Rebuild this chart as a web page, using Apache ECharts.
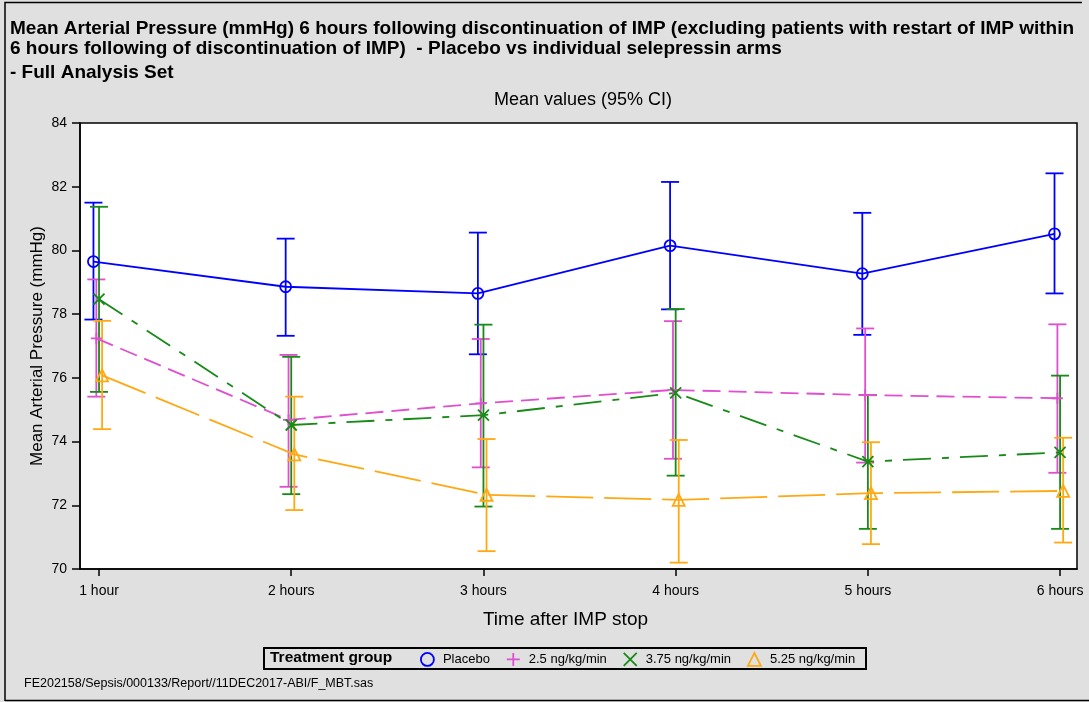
<!DOCTYPE html>
<html>
<head>
<meta charset="utf-8">
<script src="https://cdn.jsdelivr.net/npm/echarts@6/dist/echarts.min.js"></script>
<style>
  html, body { margin: 0; padding: 0; background: #e0e0e0; }
  #chart { width: 1089px; height: 702px; }
</style>
</head>
<body>
<div id="chart"></div>
<script>
// Time points after IMP stop
const hourLabels = ['1 hour', '2 hours', '3 hours', '4 hours', '5 hours', '6 hours'];
const hourValues = [1, 2, 3, 4, 5, 6];

// Mean arterial pressure (mmHg): mean, lower and upper 95% CI per group
const placeboMean = [79.65, 78.86, 78.65, 80.15, 79.27, 80.52];
const placeboLow  = [77.83, 77.32, 76.74, 78.15, 77.35, 78.65];
const placeboHigh = [81.50, 80.37, 80.56, 82.15, 81.18, 82.42];

const dose25Mean = [77.24, 74.68, 75.20, 75.62, 75.46, 75.36];
const dose25Low  = [75.41, 72.58, 73.19, 73.46, 73.34, 73.02];
const dose25High = [79.09, 76.72, 77.22, 77.78, 77.55, 77.68];

const dose375Mean = [78.47, 74.52, 74.83, 75.53, 73.37, 73.66];
const dose375Low  = [75.56, 72.35, 71.96, 72.93, 71.26, 71.26];
const dose375High = [81.37, 76.66, 77.67, 78.16, 75.46, 76.07];

const dose525Mean = [76.08, 73.60, 72.33, 72.17, 72.38, 72.45];
const dose525Low  = [74.39, 71.85, 70.56, 70.20, 70.78, 70.83];
const dose525High = [77.79, 75.41, 74.08, 74.05, 73.98, 74.12];

const yTicks = [70, 72, 74, 76, 78, 80, 82, 84];

// Group styling (cluster offset in axis units so bars don't overlap)
const groups = [
  { name: 'Placebo',         mean: placeboMean, low: placeboLow, high: placeboHigh,
    color: '#0000ff', dodge: -0.029, symbol: 'circle', size: 11, dash: 'solid' },
  { name: '2.5 ng/kg/min',   mean: dose25Mean, low: dose25Low, high: dose25High,
    color: '#df4fcf', dodge: -0.014, symbol: 'path://M5,0L5,10M0,5L10,5', size: 11, dash: [18, 8] },
  { name: '3.75 ng/kg/min',  mean: dose375Mean, low: dose375Low, high: dose375High,
    color: '#178a17', dodge: 0.0, symbol: 'path://M0,0L10,10M10,0L0,10', size: 11, dash: [28, 11, 7, 11] },
  { name: '5.25 ng/kg/min',  mean: dose525Mean, low: dose525Low, high: dose525High,
    color: '#ffa812', dodge: 0.016, symbol: 'triangle', size: 12, dash: [47, 11] }
];

const FONT = '"Liberation Sans", Arial, sans-serif';
const series = [];

groups.forEach(function (g) {
  // Error bars (95% CI) with caps
  series.push({
    type: 'custom',
    name: g.name,
    silent: true,
    z: 2,
    encode: { x: 0, y: [1, 2] },
    data: hourValues.map(function (h, i) { return [h + g.dodge, g.low[i], g.high[i]]; }),
    renderItem: function (params, api) {
      const x = api.value(0);
      const lo = api.coord([x, api.value(1)]);
      const hi = api.coord([x, api.value(2)]);
      const hw = 9;
      const st = { stroke: g.color, lineWidth: 1.8 };
      return {
        type: 'group',
        children: [
          { type: 'line', shape: { x1: lo[0], y1: lo[1], x2: hi[0], y2: hi[1] }, style: st },
          { type: 'line', shape: { x1: lo[0] - hw, y1: lo[1], x2: lo[0] + hw, y2: lo[1] }, style: st },
          { type: 'line', shape: { x1: hi[0] - hw, y1: hi[1], x2: hi[0] + hw, y2: hi[1] }, style: st }
        ]
      };
    }
  });
  // Mean line with markers
  series.push({
    type: 'line',
    name: g.name,
    z: 3,
    data: hourValues.map(function (h, i) { return [h + g.dodge, g.mean[i]]; }),
    symbol: g.symbol,
    symbolSize: g.size,
    symbolKeepAspect: true,
    showAllSymbol: true,
    itemStyle: { color: 'rgba(0,0,0,0)', borderColor: g.color, borderWidth: 1.8 },
    lineStyle: { color: g.color, width: 1.8, type: g.dash },
    emphasis: { disabled: true },
    animation: false
  });
});

const chart = echarts.init(document.getElementById('chart'), null, { renderer: 'canvas' });

chart.setOption({
  backgroundColor: '#e0e0e0',
  animation: false,
  textStyle: { fontFamily: FONT },
  title: [
    {
      text: 'Mean Arterial Pressure (mmHg) 6 hours following discontinuation of IMP (excluding patients with restart of IMP within\n6 hours following of discontinuation of IMP)  - Placebo vs individual selepressin arms',
      left: 5, top: 14,
      textStyle: { fontFamily: FONT, fontSize: 19, fontWeight: 'bold', color: '#000', lineHeight: 20 }
    },
    {
      text: '- Full Analysis Set',
      left: 5, top: 58,
      textStyle: { fontFamily: FONT, fontSize: 19, fontWeight: 'bold', color: '#000' }
    },
    {
      text: 'Mean values (95% CI)',
      left: 578, top: 86, textAlign: 'center',
      textStyle: { fontFamily: FONT, fontSize: 18, fontWeight: 'normal', color: '#000' }
    }
  ],
  grid: {
    left: 80, top: 123, right: 12, bottom: 133,
    show: true, backgroundColor: '#ffffff', borderColor: '#000', borderWidth: 1.5
  },
  xAxis: {
    type: 'value',
    min: 0.901, max: 6.088,
    name: 'Time after IMP stop',
    nameLocation: 'middle',
    nameGap: 41,
    nameMoveOverlap: false,
    nameTextStyle: { fontFamily: FONT, fontSize: 19, color: '#000', padding: [0, 26, 0, 0] },
    axisLine: { show: true, lineStyle: { color: '#000', width: 1.5 } },
    axisTick: { show: true, length: 7, lineStyle: { color: '#000', width: 1.5 }, customValues: hourValues },
    axisLabel: {
      fontFamily: FONT, fontSize: 14, color: '#000', margin: 15,
      customValues: hourValues,
      formatter: function (v) { return hourLabels[hourValues.indexOf(v)]; }
    },
    splitLine: { show: false }
  },
  yAxis: {
    type: 'value',
    min: 70, max: 84, interval: 2,
    name: 'Mean Arterial Pressure (mmHg)',
    nameLocation: 'middle',
    nameGap: 34,
    nameMoveOverlap: false,
    nameTextStyle: { fontFamily: FONT, fontSize: 17, color: '#000' },
    axisLine: { show: true, lineStyle: { color: '#000', width: 1.5 } },
    axisTick: { show: true, length: 8, lineStyle: { color: '#000', width: 1.5 } },
    axisLabel: {
      fontFamily: FONT, fontSize: 14, color: '#000', margin: 13,
      formatter: function (v) { return yTicks.indexOf(v) >= 0 ? String(v) : ''; }
    },
    splitLine: { show: false }
  },
  legend: {
    left: 415, top: 647,
    itemWidth: 13, itemHeight: 13, itemGap: 16,
    selectedMode: false,
    textStyle: { fontFamily: FONT, fontSize: 13, color: '#000', padding: [0, 0, 0, 4] },
    data: groups.map(function (g) {
      return {
        name: g.name,
        icon: g.symbol,
        itemStyle: { color: 'rgba(0,0,0,0)', borderColor: g.color, borderWidth: 1.8 }
      };
    })
  },
  graphic: [
    // outer frame
    { type: 'polyline', silent: true, shape: { points: [[5, 701], [5, 2.5], [1082, 2.5]] },
      style: { stroke: '#000', lineWidth: 1.5, fill: null } },
    { type: 'line', silent: true, shape: { x1: 5, y1: 700.5, x2: 1089, y2: 700.5 },
      style: { stroke: '#000', lineWidth: 1.5 } },
    // legend frame and title
    { type: 'rect', silent: true, z: -1, shape: { x: 264, y: 648, width: 602, height: 21 },
      style: { fill: '#e0e0e0', stroke: '#000', lineWidth: 2 } },
    { type: 'text', silent: true, left: 270, top: 650,
      style: { text: 'Treatment group', fontFamily: FONT, fontSize: 15.5, fontWeight: 'bold', fill: '#000' } },
    // program footnote
    { type: 'text', silent: true, left: 24, top: 677,
      style: { text: 'FE202158/Sepsis/000133/Report//11DEC2017-ABI/F_MBT.sas', fontFamily: FONT, fontSize: 12.5, fill: '#000' } }
  ],
  series: series
});
</script>
</body>
</html>
